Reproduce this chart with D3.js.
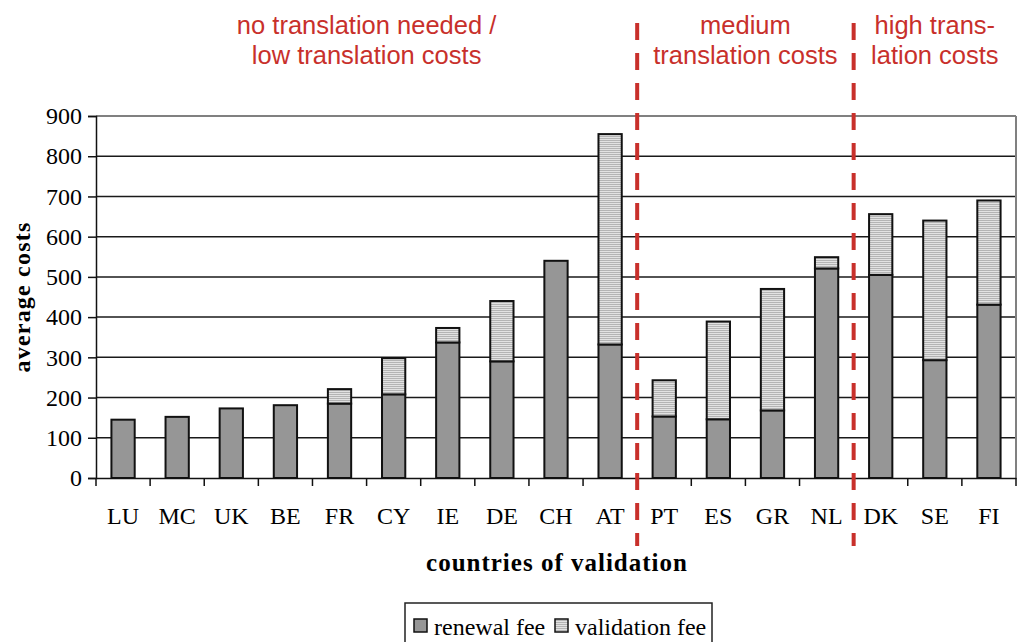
<!DOCTYPE html>
<html>
<head>
<meta charset="utf-8">
<script src="https://cdn.jsdelivr.net/npm/d3@7"></script>
<style>
  body { margin: 0; background: #fff; }
  svg { display: block; }
</style>
</head>
<body>
<div id="container"></div>
<script>
/* CONSTANTS AND GLOBALS */
const width = 1018,
  height = 642,
  margin = { top: 116, bottom: 164, left: 96, right: 2 };

// DATA
const countries = ["LU", "MC", "UK", "BE", "FR", "CY", "IE", "DE", "CH", "AT", "PT", "ES", "GR", "NL", "DK", "SE", "FI"];
const renewalFee = [145, 152, 173, 181, 185, 208, 337, 290, 540, 332, 153, 146, 168, 521, 505, 293, 431];
const validationFee = [0, 0, 0, 0, 36, 90, 36, 150, 0, 523, 90, 243, 302, 28, 151, 347, 259];
const yTicks = [0, 100, 200, 300, 400, 500, 600, 700, 800, 900];

// group dividers sit after these countries
const dividerAfter = ["AT", "NL"];
const groupLabels = [
  { lines: ["no translation needed /", "low translation costs"], from: "LU", to: "AT" },
  { lines: ["medium", "translation costs"], from: "PT", to: "NL" },
  { lines: ["high trans-", "lation costs"], from: "DK", to: "FI" }
];

const rows = countries.map((c, i) => ({ country: c, renewal: renewalFee[i], validation: validationFee[i] }));

const red = "#c8302b";

// APPEND SVG
const svg = d3.select("#container")
  .append("svg")
  .attr("width", width)
  .attr("height", height);

// horizontal stripes for the validation fee
const defs = svg.append("defs");
const pat = defs.append("pattern")
  .attr("id", "hatch")
  .attr("patternUnits", "userSpaceOnUse")
  .attr("width", 4)
  .attr("height", 2);
pat.append("rect").attr("width", 4).attr("height", 2).attr("fill", "#e2e2e2");
pat.append("rect").attr("width", 4).attr("height", 1).attr("fill", "#b4b4b4");

// SCALES
const x = d3.scaleBand()
  .domain(countries)
  .range([margin.left, width - margin.right])
  .paddingInner(0)
  .paddingOuter(0);

const y = d3.scaleLinear()
  .domain([0, 900])
  .range([height - margin.bottom, margin.top]);

const barW = x.bandwidth() * 0.43;
const fontSerif = "'Liberation Serif', 'Times New Roman', serif";

// GRIDLINES
svg.append("g")
  .selectAll("line")
  .data(yTicks.filter(d => d > 0))
  .join("line")
  .attr("x1", margin.left)
  .attr("x2", width - margin.right)
  .attr("y1", d => y(d))
  .attr("y2", d => y(d))
  .attr("stroke", d => d === 900 ? "#808080" : "#1a1a1a")
  .attr("stroke-width", d => d === 900 ? 2 : 1.5);

// right border of plot area
svg.append("line")
  .attr("x1", width - margin.right)
  .attr("x2", width - margin.right)
  .attr("y1", y(900))
  .attr("y2", y(0))
  .attr("stroke", "#808080")
  .attr("stroke-width", 2);

// BARS
const bars = svg.append("g");

bars.selectAll("rect.renewal")
  .data(rows)
  .join("rect")
  .attr("class", "renewal")
  .attr("x", d => x(d.country) + (x.bandwidth() - barW) / 2)
  .attr("width", barW)
  .attr("y", d => y(d.renewal))
  .attr("height", d => y(0) - y(d.renewal))
  .attr("fill", "#969696")
  .attr("stroke", "#111")
  .attr("stroke-width", 2);

bars.selectAll("rect.validation")
  .data(rows.filter(d => d.validation > 0))
  .join("rect")
  .attr("class", "validation")
  .attr("x", d => x(d.country) + (x.bandwidth() - barW) / 2)
  .attr("width", barW)
  .attr("y", d => y(d.renewal + d.validation))
  .attr("height", d => y(d.renewal) - y(d.renewal + d.validation))
  .attr("fill", "url(#hatch)")
  .attr("stroke", "#111")
  .attr("stroke-width", 2);

// AXES
const yAxis = d3.axisLeft(y).tickValues(yTicks).tickSize(8).tickPadding(6);
const gy = svg.append("g")
  .attr("transform", `translate(${margin.left},0)`)
  .call(yAxis);
gy.select(".domain").attr("stroke", "#111").attr("stroke-width", 1.5);
gy.selectAll(".tick line").attr("stroke", "#111").attr("stroke-width", 1.5);
gy.selectAll(".tick text")
  .attr("font-family", fontSerif)
  .attr("font-size", 24)
  .attr("fill", "#000");

const xAxis = d3.axisBottom(x).tickSize(0).tickPadding(29);
const gx = svg.append("g")
  .attr("transform", `translate(0,${y(0)})`)
  .call(xAxis);
gx.select(".domain").attr("stroke", "#111").attr("stroke-width", 1.5);
gx.selectAll(".tick text")
  .attr("font-family", fontSerif)
  .attr("font-size", 24)
  .attr("fill", "#000");

// tick marks on the band boundaries
svg.append("g")
  .selectAll("line")
  .data(countries.concat(["end"]))
  .join("line")
  .attr("x1", (d, i) => i < countries.length ? x(d) : x(countries[countries.length - 1]) + x.bandwidth())
  .attr("x2", (d, i) => i < countries.length ? x(d) : x(countries[countries.length - 1]) + x.bandwidth())
  .attr("y1", y(0))
  .attr("y2", y(0) + 8)
  .attr("stroke", "#111")
  .attr("stroke-width", 1.5);

// AXIS TITLES
svg.append("text")
  .attr("transform", `translate(30, ${(y(0) + y(900)) / 2}) rotate(-90)`)
  .attr("text-anchor", "middle")
  .attr("font-family", fontSerif)
  .attr("font-weight", "bold")
  .attr("font-size", 24)
  .attr("letter-spacing", 1.2)
  .text("average costs");

svg.append("text")
  .attr("x", 557)
  .attr("y", 571)
  .attr("text-anchor", "middle")
  .attr("font-family", fontSerif)
  .attr("font-weight", "bold")
  .attr("font-size", 25)
  .attr("letter-spacing", 1)
  .text("countries of validation");

// DIVIDERS
svg.append("g")
  .selectAll("line")
  .data(dividerAfter)
  .join("line")
  .attr("x1", d => x(d) + x.bandwidth())
  .attr("x2", d => x(d) + x.bandwidth())
  .attr("y1", 23)
  .attr("y2", 546)
  .attr("stroke", red)
  .attr("stroke-width", 4)
  .attr("stroke-dasharray", "17 13");

// GROUP LABELS
groupLabels.forEach(g => {
  const cx = (x(g.from) + x(g.to) + x.bandwidth()) / 2;
  const t = svg.append("text")
    .attr("text-anchor", "middle")
    .attr("font-family", "'Liberation Sans', Arial, sans-serif")
    .attr("font-size", 25.5)
    .attr("fill", red);
  g.lines.forEach((line, i) => {
    t.append("tspan")
      .attr("x", cx)
      .attr("y", 34 + i * 30)
      .text(line);
  });
});

// LEGEND
const legend = svg.append("g").attr("class", "legend");
legend.append("rect")
  .attr("x", 405)
  .attr("y", 603)
  .attr("width", 307)
  .attr("height", 45)
  .attr("fill", "#fff")
  .attr("stroke", "#222")
  .attr("stroke-width", 1.5);

const legendItems = [
  { label: "renewal fee", fill: "#969696", x: 414 },
  { label: "validation fee", fill: "url(#hatch)", x: 555 }
];
legend.selectAll("rect.key")
  .data(legendItems)
  .join("rect")
  .attr("class", "key")
  .attr("x", d => d.x)
  .attr("y", 619)
  .attr("width", 13)
  .attr("height", 13)
  .attr("fill", d => d.fill)
  .attr("stroke", "#111")
  .attr("stroke-width", 1.5);
legend.selectAll("text")
  .data(legendItems)
  .join("text")
  .attr("x", d => d.x + 20)
  .attr("y", 635)
  .attr("font-family", fontSerif)
  .attr("font-size", 24)
  .text(d => d.label);
</script>
</body>
</html>
